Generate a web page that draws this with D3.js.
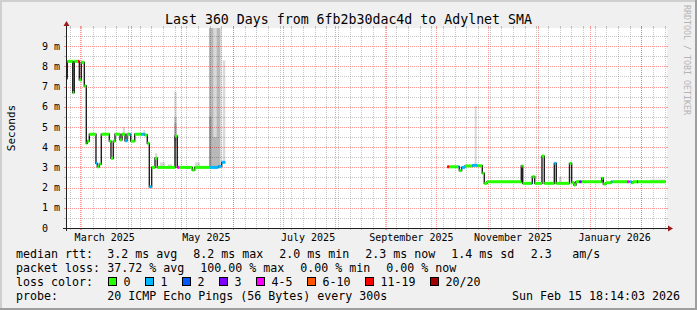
<!DOCTYPE html>
<html>
<head>
<meta charset="utf-8">
<script src="https://cdn.jsdelivr.net/npm/d3@7"></script>
<style>
html, body { margin: 0; padding: 0; background: #f0f0f0; }
svg { display: block; }
text { font-family: "DejaVu Sans Mono", monospace; fill: #000; }
</style>
</head>
<body>
<svg width="697" height="310"></svg>
<script>
const parse = d3.timeParse("%Y-%m-%d %H:%M");

// time window of the graph
const windowStart = "2025-02-20 18:14";
const windowEnd = "2026-02-15 18:14";

// median rtt steps (ms), null = no data from there on
const stepTimes = [
  "2025-02-20 18:14", "2025-02-21 13:00", "2025-02-24 19:00", "2025-02-25 18:00", "2025-02-27 23:00",
  "2025-02-28 18:00", "2025-03-01 22:30", "2025-03-03 18:00", "2025-03-04 22:30", "2025-03-05 13:00",
  "2025-03-06 18:00", "2025-03-10 18:00", "2025-03-11 13:00", "2025-03-12 18:00", "2025-03-13 22:30",
  "2025-03-18 18:00", "2025-03-19 18:00", "2025-03-21 03:00", "2025-03-22 04:00", "2025-03-25 04:00",
  "2025-03-26 09:00", "2025-03-28 04:00", "2025-03-29 09:00", "2025-03-30 13:30", "2025-03-31 14:00",
  "2025-04-02 23:30", "2025-04-06 18:00", "2025-04-08 23:30", "2025-04-10 13:00", "2025-04-11 18:00",
  "2025-04-13 04:00", "2025-04-15 04:00", "2025-04-16 13:00", "2025-04-27 04:00", "2025-04-28 13:00",
  "2025-04-29 18:00", "2025-05-07 13:00", "2025-05-08 23:30", "2025-05-18 04:00", "2025-05-23 03:30",
  "2025-05-25 04:30", "2025-05-27 08:00",
  "2025-10-07 13:00", "2025-10-08 18:00", "2025-10-14 03:30", "2025-10-14 18:00", "2025-10-16 04:00",
  "2025-10-18 04:00", "2025-10-22 13:00", "2025-10-25 13:00", "2025-10-28 13:00", "2025-10-29 18:00",
  "2025-10-31 08:30", "2025-11-20 22:30", "2025-11-21 19:00", "2025-11-26 18:00", "2025-11-27 13:00",
  "2025-11-28 23:30", "2025-12-03 08:30", "2025-12-04 18:00", "2025-12-10 18:00", "2025-12-11 22:30",
  "2025-12-19 20:30", "2025-12-21 04:00", "2025-12-22 13:30", "2025-12-23 18:00", "2025-12-25 18:00",
  "2025-12-27 04:00", "2026-01-08 04:00", "2026-01-09 03:30", "2026-01-10 18:00", "2026-01-13 18:00",
  "2026-01-14 19:00", "2026-01-23 13:00", "2026-01-24 18:00", "2026-01-26 04:00", "2026-01-26 23:00",
  "2026-01-29 08:30", "2026-01-29 23:00"
];
const stepMedian = [
  7.4, 8.25, 6.7, 8.25, 8.25, 7.33, 8.2, 7.03, 4.19, 4.3,
  4.64, 3.2, 3.03, 3.17, 4.64, 4.3, 3.45, 4.3, 4.64, 4.36,
  4.64, 4.32, 4.64, 4.64, 4.3, 4.64, 4.64, 4.6, 4.19, 2.04,
  3.0, 3.45, 3.0, 4.55, 3.0, 3.0, 2.87, 3.0, 3.0, 3.05,
  3.25, null,
  3.03, 3.03, 3.03, 2.84, 3.0, 3.07, 3.1, 3.08, 2.71, 2.21,
  2.29, 3.07, 2.21, 2.21, 2.54, 2.21, 3.56, 2.21, 3.2, 2.21,
  3.2, 2.25, 2.13, 2.29, 2.29, 2.29, 2.46, 2.18, 2.24, 2.29,
  2.29, 2.29, 2.29, 2.24, 2.29, 2.29, 2.29
];
// index into lossLabels
const stepLoss = [
  0, 0, 0, 0, 6, 0, 0, 0, 0, 0,
  0, 1, 0, 0, 0, 0, 0, 0, 0, 0,
  0, 1, 0, 1, 0, 0, 1, 0, 0, 1,
  0, 0, 0, 0, 4, 0, 0, 0, 1, 1,
  1, 0,
  6, 0, 1, 0, 1, 0, 1, 0, 0, 0,
  0, 0, 0, 1, 0, 0, 0, 0, 1, 0,
  0, 0, 0, 0, 3, 0, 0, 0, 0, 1,
  0, 4, 1, 0, 0, 6, 0
];

// smoke (ping spread), each entry one layer between low and high ms
const smokeFrom = [
  "2025-03-26 19:00", "2025-04-08 03:30", "2025-04-15 04:00", "2025-04-18 04:00", "2025-04-22 23:00",
  "2025-04-26 18:00", "2025-04-26 18:00", "2025-04-26 18:00", "2025-05-09 04:00",
  "2025-05-17 13:30", "2025-05-17 13:30", "2025-05-17 13:30", "2025-05-22 04:30",
  "2025-05-20 03:30", "2025-05-25 19:00", "2025-10-23 23:30", "2025-12-13 13:30",
  "2026-02-06 04:00"
];
const smokeTo = [
  "2025-03-28 04:00", "2025-04-09 08:00", "2025-04-16 13:00", "2025-04-21 04:00", "2025-04-25 09:00",
  "2025-04-28 04:00", "2025-04-28 04:00", "2025-04-28 04:00", "2025-05-12 04:00",
  "2025-05-25 04:30", "2025-05-20 03:30", "2025-05-19 00:00", "2025-05-24 04:00",
  "2025-05-22 04:30", "2025-05-27 08:00", "2025-10-25 04:30", "2025-12-15 04:00",
  "2026-02-15 12:00"
];
const smokeLow = [
  4.64, 4.64, 3.45, 3.0, 3.0,
  3.0, 4.0, 4.3, 3.0,
  2.95, 2.95, 2.95, 2.95,
  2.95, 3.3, 3.1, 2.21,
  2.29
];
const smokeHigh = [
  5.0, 4.85, 3.7, 3.25, 3.15,
  6.75, 5.5, 5.2, 3.25,
  9.9, 9.9, 5.5, 9.9,
  4.5, 8.3, 6.04, 2.54,
  2.4
];

const yTicks = [0, 1, 2, 3, 4, 5, 6, 7, 8, 9];
const yTickLabels = ["0\u00a0\u00a0", "1 m", "2 m", "3 m", "4 m", "5 m", "6 m", "7 m", "8 m", "9 m"];
const xLabelMonths = ["2025-03-01 00:00", "2025-05-01 00:00", "2025-07-01 00:00", "2025-09-01 00:00", "2025-11-01 00:00", "2026-01-01 00:00"];
const xLabels = ["March 2025", "May 2025", "July 2025", "September 2025", "November 2025", "January 2026"];

const lossLabels = ["0", "1", "2", "3", "4-5", "6-10", "11-19", "20/20"];
const lossColors = ["#26ff00", "#00b8ff", "#0059ff", "#7e00ff", "#ff00ff", "#ff5500", "#ff0000", "#a10000"];

const rttStats = ["3.2 ms avg", "8.2 ms max", "2.0 ms min", "2.3 ms now", "1.4 ms sd", "2.3", "am/s"];
const lossStats = ["37.72 % avg", "100.00 % max", "0.00 % min", "0.00 % now"];

const title = "Last 360 Days from 6fb2b30dac4d to Adylnet SMA";
const probeText = "20 ICMP Echo Pings (56 Bytes) every 300s";
const stamp = "Sun Feb 15 18:14:03 2026";

// ---------------------------------------------------------------
const W = 697, H = 310;
const svg = d3.select("svg");

const x = d3.scaleTime().domain([parse(windowStart), parse(windowEnd)]).range([66, 666]);
const y = d3.scaleLinear().domain([0, 9.9]).range([228, 28]);
const [x0, x1] = x.range(), [y0, y1] = y.range();
const px = v => Math.round(v) + 0.5;

// frame
svg.append("rect").attr("width", W).attr("height", H).attr("fill", "#f0f0f0");
svg.append("rect").attr("width", W).attr("height", 2).attr("fill", "#cfcfcf");
svg.append("rect").attr("width", 2).attr("height", H).attr("fill", "#cfcfcf");
svg.append("rect").attr("y", H - 2).attr("width", W).attr("height", 2).attr("fill", "#9e9e9e");
svg.append("rect").attr("x", W - 2).attr("width", 2).attr("height", H).attr("fill", "#9e9e9e");

// canvas
svg.append("rect").attr("x", x0).attr("y", y1).attr("width", x1 - x0 + 1).attr("height", y0 - y1)
  .attr("fill", "#fff");

svg.append("clipPath").attr("id", "plot").append("rect")
  .attr("x", x0).attr("y", y1).attr("width", x1 - x0 + 1).attr("height", y0 - y1);

// grid
const gridMinor = "rgba(120,120,120,0.42)", gridMajor = "rgba(255,80,80,0.6)";
const grid = svg.append("g").attr("stroke-width", 1);

function hline(v, color) {
  const yy = px(y(v));
  grid.append("line").attr("x1", x0).attr("x2", x1).attr("y1", yy).attr("y2", yy)
    .attr("stroke", color).attr("stroke-dasharray", "1,1");
  grid.append("line").attr("x1", x0 - 2).attr("x2", x0).attr("y1", yy).attr("y2", yy).attr("stroke", color);
  grid.append("line").attr("x1", x1).attr("x2", x1 + 2).attr("y1", yy).attr("y2", yy).attr("stroke", color);
}
function vline(t, color) {
  const xx = px(x(t));
  grid.append("line").attr("x1", xx).attr("x2", xx).attr("y1", y1).attr("y2", y0)
    .attr("stroke", color).attr("stroke-dasharray", "1,1");
  grid.append("line").attr("x1", xx).attr("x2", xx).attr("y1", y0).attr("y2", y0 + 2).attr("stroke", color);
  grid.append("line").attr("x1", xx).attr("x2", xx).attr("y1", y1 - 2).attr("y2", y1).attr("stroke", color);
}
d3.range(0.5, 9.9, 1).forEach(v => hline(v, gridMinor));
d3.timeSunday.range(x.domain()[0], x.domain()[1]).forEach(t => vline(t, gridMinor));
yTicks.filter(v => v > 0).forEach(v => hline(v, gridMajor));
d3.timeMonth.range(x.domain()[0], x.domain()[1]).forEach(t => vline(t, gridMajor));

// smoke
const plot = svg.append("g").attr("clip-path", "url(#plot)");
plot.append("g").selectAll("rect")
  .data(smokeFrom.map((f, i) => ({ t0: parse(f), t1: parse(smokeTo[i]), lo: smokeLow[i], hi: smokeHigh[i] })))
  .join("rect")
  .attr("x", d => x(d.t0))
  .attr("width", d => x(d.t1) - x(d.t0))
  .attr("y", d => y(d.hi))
  .attr("height", d => y(d.lo) - y(d.hi))
  .attr("fill", "#000")
  .attr("fill-opacity", 0.15);

// median
const steps = stepTimes.map((t, i) => ({
  t0: parse(t),
  t1: i < stepTimes.length - 1 ? parse(stepTimes[i + 1]) : parse(windowEnd),
  v: stepMedian[i],
  loss: stepLoss[i]
}));
const pts = [];
steps.forEach(s => {
  if (s.v == null) { pts.push({ t: s.t0, v: null }); return; }
  pts.push({ t: s.t0, v: s.v });
  pts.push({ t: s.t1, v: s.v });
});
plot.append("path")
  .attr("d", d3.line().defined(d => d.v != null).x(d => x(d.t)).y(d => y(d.v))(pts))
  .attr("fill", "none")
  .attr("stroke", "#202020")
  .attr("stroke-width", 1.4);

plot.append("g").selectAll("rect")
  .data(steps.filter(s => s.v != null))
  .join("rect")
  .attr("x", d => x(d.t0))
  .attr("width", d => Math.max(1, x(d.t1) - x(d.t0)))
  .attr("y", d => y(d.v) - 1.5)
  .attr("height", 3)
  .attr("fill", d => lossColors[d.loss]);

// axes
const axisColor = "#202020", arrowColor = "#9a1a1a";
svg.append("line").attr("x1", x0 - 3).attr("x2", x1 + 3).attr("y1", px(y0)).attr("y2", px(y0))
  .attr("stroke", axisColor);
svg.append("line").attr("x1", px(x0)).attr("x2", px(x0)).attr("y1", y0 + 3).attr("y2", y1 - 3)
  .attr("stroke", axisColor);
svg.append("path")
  .attr("d", `M${px(x0) - 3},${y1 - 2}L${px(x0) + 3},${y1 - 2}L${px(x0)},${y1 - 7}Z`)
  .attr("fill", arrowColor);
svg.append("path")
  .attr("d", `M${x1 + 2},${px(y0) - 3}L${x1 + 2},${px(y0) + 3}L${x1 + 7},${px(y0)}Z`)
  .attr("fill", arrowColor);

// y labels
svg.append("g").selectAll("text")
  .data(yTicks)
  .join("text")
  .attr("x", x0 - 6)
  .attr("y", d => y(d))
  .attr("dy", "0.36em")
  .attr("text-anchor", "end")
  .attr("font-size", "10px")
  .text((d, i) => yTickLabels[i]);

// x labels, centred half a month after the month start
svg.append("g").selectAll("text")
  .data(xLabelMonths)
  .join("text")
  .attr("x", d => x(d3.timeDay.offset(parse(d), 15)))
  .attr("y", 241)
  .attr("text-anchor", "middle")
  .attr("font-size", "10px")
  .text((d, i) => xLabels[i]);

// title and side texts
svg.append("text").attr("x", W / 2).attr("y", 24).attr("text-anchor", "middle")
  .attr("font-size", "13.25px").text(title);
svg.append("text").attr("transform", `translate(15,${(y0 + y1) / 2}) rotate(-90)`)
  .attr("text-anchor", "middle").attr("font-size", "11px").text("Seconds");
svg.append("text").attr("transform", "translate(684,5) rotate(90)")
  .attr("font-size", "8.3px").style("fill", "#b4b4b4").text("RRDTOOL / TOBI OETIKER");

// legend
const fs = "11.63px", cw = 7;
const leg = svg.append("g").attr("font-size", fs);
const rows = [258, 272, 286, 300];
leg.append("text").attr("x", 16).attr("y", rows[0]).text("median rtt:");
const rttX = [107.3, 193.3, 279.3, 365.3, 451.3, 530.7, 572.3];
rttStats.forEach((s, i) => leg.append("text").attr("x", rttX[i]).attr("y", rows[0]).text(s));

leg.append("text").attr("x", 16).attr("y", rows[1]).text("packet loss:");
const lossX = [107.3, 200.3, 300.3, 386.3];
lossStats.forEach((s, i) => leg.append("text").attr("x", lossX[i]).attr("y", rows[1]).text(s));

leg.append("text").attr("x", 16).attr("y", rows[2]).text("loss color:");
let bx = 108.5;
lossLabels.forEach((l, i) => {
  leg.append("rect").attr("x", bx).attr("y", rows[2] - 8.5).attr("width", 8).attr("height", 8)
    .attr("fill", lossColors[i]).attr("stroke", "#000").attr("stroke-width", 1);
  leg.append("text").attr("x", bx + 15).attr("y", rows[2]).text(l);
  bx += 15 + cw * l.length + 15;
});

leg.append("text").attr("x", 16).attr("y", rows[3]).text("probe:");
leg.append("text").attr("x", 107.3).attr("y", rows[3]).text(probeText);
leg.append("text").attr("x", 680).attr("y", rows[3]).attr("text-anchor", "end").text(stamp);
</script>
</body>
</html>
